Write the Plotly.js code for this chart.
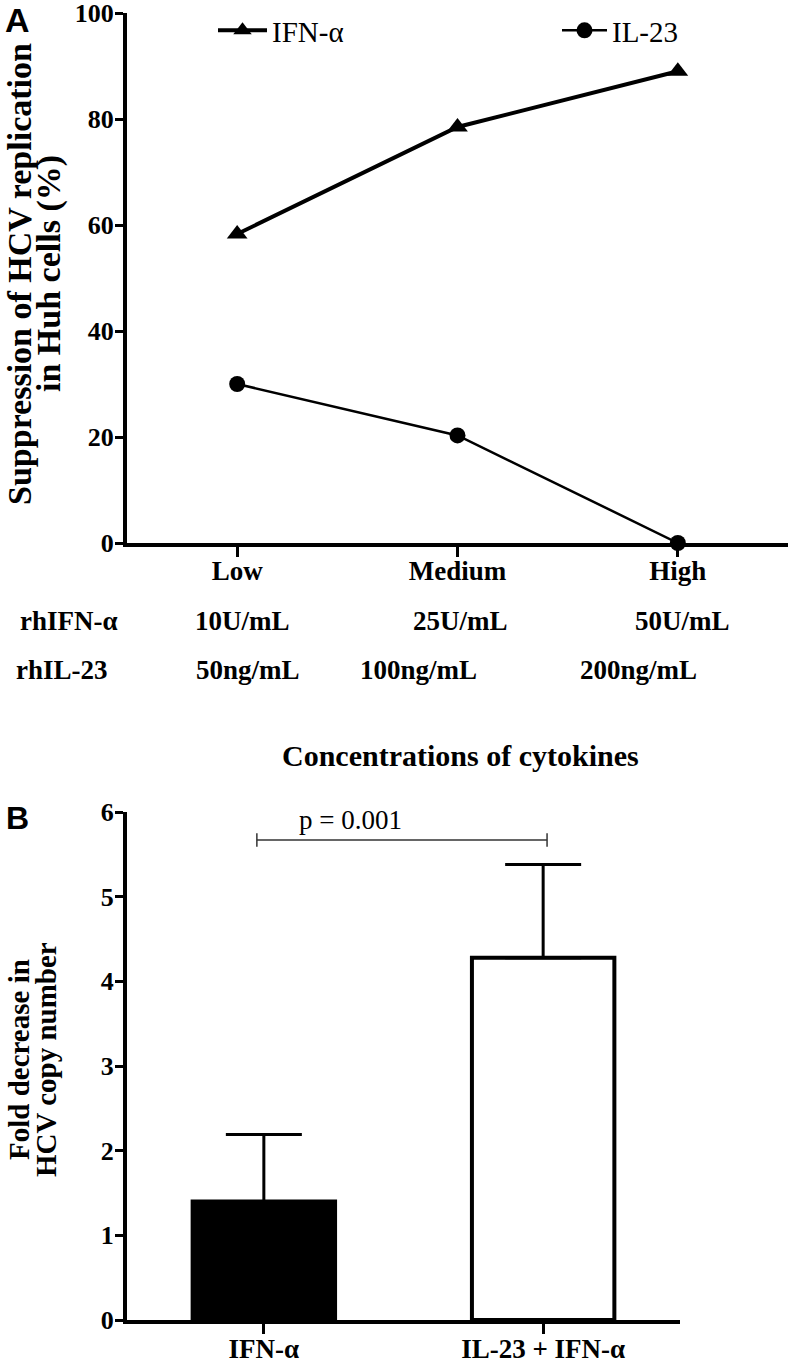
<!DOCTYPE html>
<html>
<head>
<meta charset="utf-8">
<script src="https://cdn.plot.ly/plotly-3.0.1.min.js"></script>
<style>html,body{margin:0;padding:0;background:#fff;}#chart{width:792px;height:1364px;}</style>
</head>
<body>
<div id="chart"></div>
<script>
// ---- Panel A data ----
const categories = ['Low', 'Medium', 'High'];
const ifnValues = [58.3, 78.5, 89.0];
const il23Values = [30.0, 20.3, 0.0];
const ifnRowLabel = 'rhIFN-α';
const ifnDoses = ['10U/mL', '25U/mL', '50U/mL'];
const il23RowLabel = 'rhIL-23';
const il23Doses = ['50ng/mL', '100ng/mL', '200ng/mL'];
const seriesNames = ['IFN-α', 'IL-23'];
const titleA = ['Suppression of HCV replication', 'in Huh cells (%)'];
const xTitleA = 'Concentrations of cytokines';

// ---- Panel B data ----
const groups = ['IFN-α', 'IL-23 + IFN-α'];
const foldValues = [1.40, 4.28];
const foldErrors = [0.79, 1.10];
const titleB = ['Fold decrease in', 'HCV copy number'];
const pText = 'p = 0.001';
const pBracketY = 5.67;

const W = 792, H = 1364;
const px = v => v / W;
const py = v => 1 - v / H;
const serif = '"Liberation Serif", "Times New Roman", serif';
const sans = '"Liberation Sans", Arial, sans-serif';

const traces = [
  {
    x: categories, y: ifnValues, name: seriesNames[0], type: 'scatter', mode: 'lines+markers',
    xaxis: 'x', yaxis: 'y', legend: 'legend',
    line: {color: '#000', width: 4},
    marker: {symbol: 'triangle-up', size: 18, color: '#000'},
    cliponaxis: false
  },
  {
    x: categories, y: il23Values, name: seriesNames[1], type: 'scatter', mode: 'lines+markers',
    xaxis: 'x', yaxis: 'y', legend: 'legend2',
    line: {color: '#000', width: 2.5},
    marker: {symbol: 'circle', size: 16, color: '#000'},
    cliponaxis: false
  },
  {
    x: groups, y: foldValues, type: 'bar', xaxis: 'x2', yaxis: 'y2', showlegend: false,
    width: 0.51,
    marker: {color: ['#000', '#fff'], line: {color: '#000', width: 4}},
    error_y: {type: 'data', symmetric: false, array: foldErrors, arrayminus: [0, 0],
              color: '#000', thickness: 3, width: 38}
  }
];

const tickFont = {family: serif, size: 27, color: '#000', weight: 'bold'};
const yTickFont = {family: serif, size: 26, color: '#000', weight: 'bold'};

const annotations = [];
function addText(text, x, y, size, bold, family, angle) {
  annotations.push({
    text: bold ? '<b>' + text + '</b>' : text, xref: 'paper', yref: 'paper',
    x: px(x), y: py(y), xanchor: 'center', yanchor: 'middle', showarrow: false,
    textangle: angle || 0,
    font: {family: family || serif, size: size, color: '#000'}
  });
}
addText('A', 17, 20, 34, true, sans);
addText('B', 17, 818, 32, true, sans);

// Panel A y-axis title (two lines)
addText(titleA[0], 19, 274, 34, true, serif, -90);
addText(titleA[1], 49, 274, 34, true, serif, -90);
// Panel B y-axis title (two lines)
addText(titleB[0], 19, 1060, 29, true, serif, -90);
addText(titleB[1], 46, 1060, 29, true, serif, -90);

const ifnX = [242, 460, 682];
const il23X = [248, 418, 638];
addText(ifnRowLabel, 69, 621, 27, true);
ifnDoses.forEach((d, i) => addText(d, ifnX[i], 621, 27, true));
addText(il23RowLabel, 62, 670, 27, true);
il23Doses.forEach((d, i) => addText(d, il23X[i], 670, 27, true));
addText(xTitleA, 460, 756, 30, true);

annotations.push({
  text: pText, xref: 'x2', yref: 'y2', x: 0.31, y: 5.9, xanchor: 'center', yanchor: 'middle',
  showarrow: false, font: {family: serif, size: 27, color: '#000'}
});

const shapes = [
  {type: 'line', xref: 'x2', yref: 'y2', x0: -0.025, x1: 1.014, y0: pBracketY, y1: pBracketY, line: {color: '#333', width: 1.5}},
  {type: 'line', xref: 'x2', yref: 'y2', x0: -0.025, x1: -0.025, y0: pBracketY - 0.08, y1: pBracketY + 0.08, line: {color: '#333', width: 1.5}},
  {type: 'line', xref: 'x2', yref: 'y2', x0: 1.014, x1: 1.014, y0: pBracketY - 0.08, y1: pBracketY + 0.08, line: {color: '#333', width: 1.5}}
];

const legendFont = {family: serif, size: 29, color: '#000'};
const layout = {
  width: W, height: H,
  margin: {l: 0, r: 0, t: 0, b: 0},
  paper_bgcolor: '#fff', plot_bgcolor: 'rgba(0,0,0,0)',
  showlegend: true,
  legend: {x: px(213), y: py(5), xanchor: 'left', yanchor: 'top', bgcolor: 'rgba(0,0,0,0)',
           itemwidth: 49, font: legendFont},
  legend2: {x: px(557), y: py(5), xanchor: 'left', yanchor: 'top', bgcolor: 'rgba(0,0,0,0)',
           itemwidth: 45, font: legendFont},
  xaxis: {
    domain: [px(127), px(788)], anchor: 'y', type: 'category', range: [-0.5, 2.5],
    showline: true, linecolor: '#000', linewidth: 4, ticks: 'outside', ticklen: 10, tickwidth: 3,
    tickcolor: '#000', showgrid: false, zeroline: false, tickfont: tickFont, ticklabelstandoff: -9
  },
  yaxis: {
    domain: [py(543), py(13)], anchor: 'x', range: [0, 100], dtick: 20,
    showline: true, linecolor: '#000', linewidth: 4, ticks: 'outside', ticklen: 8, tickwidth: 3,
    tickcolor: '#000', showgrid: false, zeroline: false, tickfont: yTickFont,
    ticklabeloverflow: 'allow', ticklabelstandoff: -4
  },
  xaxis2: {
    domain: [px(127), px(680)], anchor: 'y2', type: 'category', range: [-0.49, 1.49],
    showline: true, linecolor: '#000', linewidth: 4, ticks: 'outside', ticklen: 10, tickwidth: 3,
    tickcolor: '#000', showgrid: false, zeroline: false, tickfont: tickFont,
    ticklabelstandoff: -8, ticklabeloverflow: 'allow'
  },
  yaxis2: {
    domain: [py(1320), py(812)], anchor: 'x2', range: [0, 6], dtick: 1,
    showline: true, linecolor: '#000', linewidth: 4, ticks: 'outside', ticklen: 8, tickwidth: 3,
    tickcolor: '#000', showgrid: false, zeroline: false, tickfont: yTickFont,
    ticklabeloverflow: 'allow', ticklabelstandoff: -4
  },
  annotations: annotations,
  shapes: shapes
};

Plotly.newPlot('chart', traces, layout, {displayModeBar: false, staticPlot: true});
</script>
</body>
</html>
